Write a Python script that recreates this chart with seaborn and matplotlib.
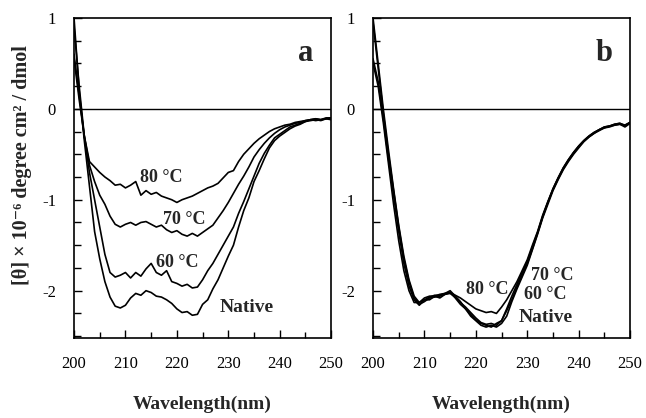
import numpy as np
import pandas as pd
import matplotlib
matplotlib.use("Agg")
import matplotlib.pyplot as plt
from matplotlib.ticker import MultipleLocator
import seaborn as sns

# wavelength grid (nm)
wavelength = list(range(200, 251))

# panel a: thermal denaturation
a_native = [1.0, 0.2, -0.35, -0.85, -1.35, -1.65, -1.9, -2.07, -2.17, -2.19,
            -2.16, -2.08, -2.03, -2.05, -2.0, -2.02, -2.06, -2.07, -2.1, -2.14,
            -2.2, -2.24, -2.23, -2.27, -2.26, -2.15, -2.1, -1.98, -1.88, -1.75,
            -1.62, -1.5, -1.3, -1.12, -0.98, -0.8, -0.68, -0.55, -0.43, -0.35,
            -0.3, -0.26, -0.22, -0.19, -0.17, -0.14, -0.13, -0.12, -0.13, -0.11,
            -0.1]
a_60 = [0.9, 0.25, -0.3, -0.7, -1.0, -1.3, -1.6, -1.8, -1.85, -1.83,
        -1.8, -1.86, -1.8, -1.84, -1.76, -1.7, -1.8, -1.83, -1.78, -1.9,
        -1.92, -1.95, -1.93, -1.97, -1.96, -1.88, -1.78, -1.7, -1.6, -1.5,
        -1.4, -1.3, -1.15, -1.02, -0.88, -0.74, -0.6, -0.49, -0.4, -0.32,
        -0.28, -0.24, -0.2, -0.18, -0.16, -0.14, -0.12, -0.13, -0.12, -0.11,
        -0.1]
a_70 = [0.6, 0.15, -0.3, -0.62, -0.8, -0.95, -1.05, -1.18, -1.27, -1.3,
        -1.27, -1.25, -1.28, -1.25, -1.24, -1.27, -1.3, -1.28, -1.33, -1.36,
        -1.34, -1.38, -1.4, -1.37, -1.4, -1.36, -1.32, -1.28, -1.2, -1.12,
        -1.03, -0.93, -0.83, -0.74, -0.64, -0.53, -0.45, -0.38, -0.32, -0.27,
        -0.23, -0.2, -0.18, -0.16, -0.15, -0.13, -0.12, -0.11, -0.12, -0.1,
        -0.1]
a_80 = [0.55, 0.1, -0.3, -0.58, -0.64, -0.7, -0.75, -0.79, -0.84, -0.83,
        -0.87, -0.84, -0.8, -0.95, -0.9, -0.94, -0.92, -0.96, -0.98, -1.0,
        -1.03, -1.0, -0.98, -0.96, -0.93, -0.9, -0.87, -0.85, -0.82, -0.76,
        -0.7, -0.68, -0.58, -0.5, -0.44, -0.38, -0.33, -0.29, -0.25, -0.22,
        -0.2, -0.18, -0.17, -0.15, -0.14, -0.13, -0.12, -0.11, -0.12, -0.11,
        -0.12]

# panel b
b_native = [0.95, 0.45, -0.05, -0.5, -0.9, -1.3, -1.65, -1.9, -2.08, -2.15,
            -2.12, -2.08, -2.07, -2.06, -2.04, -2.02, -2.08, -2.15, -2.2, -2.28,
            -2.33, -2.38, -2.4, -2.38, -2.4, -2.36, -2.28, -2.12, -1.98, -1.85,
            -1.72, -1.55, -1.38, -1.2, -1.05, -0.9, -0.78, -0.67, -0.58, -0.5,
            -0.43, -0.36, -0.31, -0.27, -0.24, -0.21, -0.2, -0.18, -0.17, -0.2,
            -0.16]
b_60 = [1.0, 0.5, 0.0, -0.45, -0.88, -1.28, -1.62, -1.88, -2.06, -2.13,
        -2.1, -2.07, -2.05, -2.05, -2.03, -2.0, -2.06, -2.12, -2.2, -2.26,
        -2.32, -2.36, -2.38, -2.4, -2.36, -2.33, -2.22, -2.1, -1.96, -1.83,
        -1.7, -1.54, -1.37, -1.19, -1.03, -0.89, -0.77, -0.66, -0.57, -0.49,
        -0.42, -0.36, -0.31, -0.27, -0.23, -0.21, -0.19, -0.18, -0.17, -0.18,
        -0.15]
b_70 = [0.55, 0.3, -0.1, -0.55, -0.95, -1.35, -1.7, -1.95, -2.1, -2.16,
        -2.1, -2.1, -2.06, -2.08, -2.04, -2.03, -2.07, -2.13, -2.18, -2.24,
        -2.3, -2.35, -2.37, -2.36, -2.38, -2.33, -2.2, -2.06, -1.93, -1.8,
        -1.68, -1.52, -1.36, -1.18, -1.03, -0.88, -0.76, -0.65, -0.56, -0.48,
        -0.41, -0.35, -0.3, -0.26, -0.23, -0.2, -0.19, -0.17, -0.16, -0.19,
        -0.15]
b_80 = [0.5, 0.25, -0.15, -0.6, -1.05, -1.45, -1.78, -2.0, -2.13, -2.13,
        -2.08, -2.06, -2.06, -2.04, -2.03, -2.02, -2.05, -2.08, -2.12, -2.16,
        -2.2, -2.22, -2.24, -2.23, -2.25, -2.18, -2.1, -2.0, -1.9, -1.78,
        -1.66, -1.5, -1.35, -1.17, -1.02, -0.88, -0.76, -0.65, -0.56, -0.48,
        -0.41, -0.35, -0.3, -0.26, -0.23, -0.2, -0.19, -0.17, -0.16, -0.18,
        -0.15]

sns.set_style("ticks")
plt.rcParams["font.family"] = ["Liberation Serif", "DejaVu Serif"]
plt.rcParams["axes.unicode_minus"] = False

fig = plt.figure(figsize=(6.46, 4.18), dpi=100)
ax_a = fig.add_axes([0.1146, 0.1914, 0.398, 0.766])
ax_b = fig.add_axes([0.5774, 0.1914, 0.398, 0.766])

panels = [
    (ax_a, [a_native, a_60, a_70, a_80], "a",
     [(217.0, -0.76, "80 °C"), (221.4, -1.22, "70 °C"), (220.0, -1.69, "60 °C"), (233.6, -2.19, "Native")]),
    (ax_b, [b_native, b_60, b_70, b_80], "b",
     [(222.3, -1.99, "80 °C"), (234.8, -1.835, "70 °C"), (233.5, -2.04, "60 °C"), (233.6, -2.30, "Native")]),
]

for ax, series, letter, notes in panels:
    for s in series:
        sns.lineplot(x=wavelength, y=s, ax=ax, color="black", linewidth=1.2, estimator=None)
    ax.axhline(0, color="black", linewidth=1.0)
    ax.set_xlim(200, 250)
    ax.set_ylim(-2.52, 1)
    ax.xaxis.set_major_locator(MultipleLocator(10))
    ax.xaxis.set_minor_locator(MultipleLocator(5))
    ax.yaxis.set_major_locator(MultipleLocator(1))
    ax.yaxis.set_minor_locator(MultipleLocator(0.25))
    ax.tick_params(which="both", direction="in", top=False, right=False, colors="black")
    ax.tick_params(axis="x", which="major", length=6, width=1, pad=13, labelsize=12)
    ax.tick_params(axis="x", which="minor", length=4, width=1)
    ax.tick_params(axis="y", which="major", length=6, width=1, pad=13, labelsize=12)
    ax.tick_params(axis="y", which="minor", length=5, width=1)
    for sp in ax.spines.values():
        sp.set_visible(True)
        sp.set_color("black")
        sp.set_linewidth(1.2)
    ax.set_xlabel("Wavelength(nm)", fontsize=14, fontweight="bold", labelpad=17)
    ax.text(0.9, 0.89, letter, transform=ax.transAxes, fontsize=22, fontweight="bold",
            ha="center", va="center")
    for x, y, t in notes:
        size = 14 if t == "Native" else 13
        ax.text(x, y, t, fontsize=size, fontweight="bold", ha="center", va="center")

ax_a.set_ylabel("[θ] × 10⁻⁶ degree cm² / dmol", fontsize=14.5, fontweight="bold")
ax_a.yaxis.set_label_coords(-0.165, 0.54)
ax_b.set_ylabel("")

fig.savefig("out.png", dpi=100)
